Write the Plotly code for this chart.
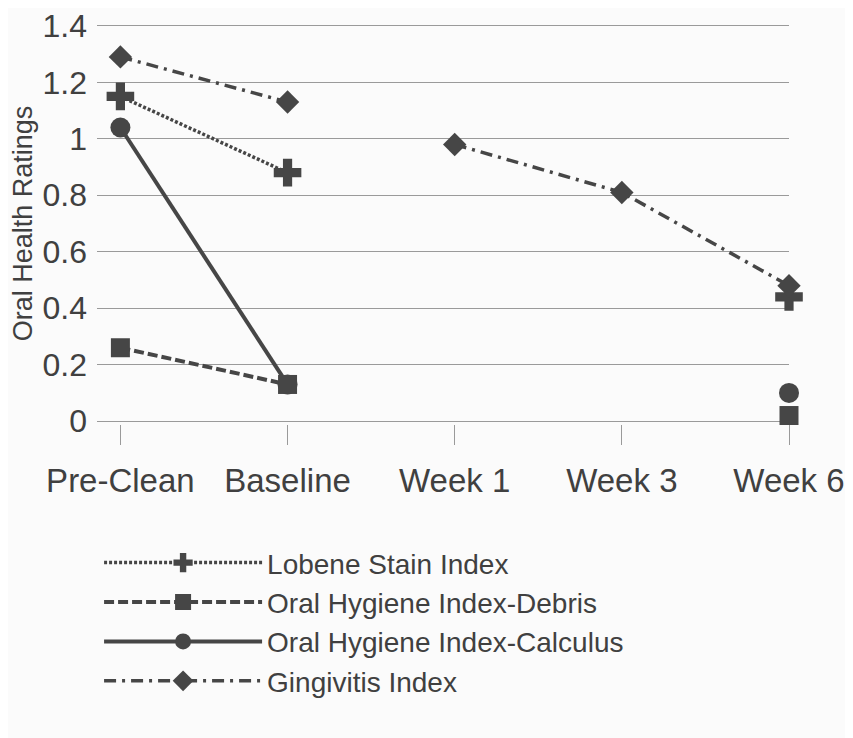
import plotly.graph_objects as go

categories = ["Pre-Clean", "Baseline", "Week 1", "Week 3", "Week 6"]
lobene_stain = [1.15, 0.88, None, None, 0.44]
ohi_debris = [0.26, 0.13, None, None, 0.02]
ohi_calculus = [1.04, 0.13, None, None, 0.10]
gingivitis = [1.29, 1.13, 0.98, 0.81, 0.48]
y_ticks = [0, 0.2, 0.4, 0.6, 0.8, 1, 1.2, 1.4]
y_tick_labels = ["0", "0.2", "0.4", "0.6", "0.8", "1", "1.2", "1.4"]

INK = "#464646"
TXT = "#404040"
FONT = "Liberation Sans, Arial, sans-serif"

fig = go.Figure()

fig.add_trace(go.Scatter(
    x=categories, y=lobene_stain, name="Lobene Stain Index",
    mode="lines+markers", connectgaps=False, cliponaxis=False, legendrank=1,
    line=dict(color=INK, width=3.5, dash="3px,2px"),
    marker=dict(symbol="cross", size=23, color=INK),
))
fig.add_trace(go.Scatter(
    x=categories, y=ohi_calculus, name="Oral Hygiene Index-Calculus",
    mode="lines+markers", connectgaps=False, cliponaxis=False, legendrank=3,
    line=dict(color=INK, width=4),
    marker=dict(symbol="circle", size=20, color=INK),
))
fig.add_trace(go.Scatter(
    x=categories, y=ohi_debris, name="Oral Hygiene Index-Debris",
    mode="lines+markers", connectgaps=False, cliponaxis=False, legendrank=2,
    line=dict(color=INK, width=4, dash="10px,4px"),
    marker=dict(symbol="square", size=19, color=INK),
))
fig.add_trace(go.Scatter(
    x=categories[:2], y=gingivitis[:2], name="Gingivitis Index",
    legendgroup="ging", mode="lines+markers", cliponaxis=False, legendrank=4,
    line=dict(color=INK, width=3.5, dash="12px,6px,3px,6px"),
    marker=dict(symbol="diamond", size=18, color=INK),
))
fig.add_trace(go.Scatter(
    x=categories[2:], y=gingivitis[2:], name="Gingivitis Index",
    legendgroup="ging", showlegend=False, mode="lines+markers", cliponaxis=False,
    line=dict(color=INK, width=3.5, dash="12px,6px,3px,6px"),
    marker=dict(symbol="diamond", size=18, color=INK),
))

fig.update_layout(
    width=845, height=730,
    margin=dict(l=89, r=64, t=15, b=314, autoexpand=False),
    paper_bgcolor="#fbfbfb", plot_bgcolor="#fbfbfb",
    font=dict(family=FONT, color=TXT, size=33),
    showlegend=True,
    legend=dict(
        x=0.003, y=-0.284, xanchor="left", yanchor="top",
        font=dict(size=28, family=FONT, color=TXT),
        bgcolor="rgba(0,0,0,0)", itemwidth=158, tracegroupgap=0,
        traceorder="normal",
    ),
    xaxis=dict(
        type="category", categoryorder="array", categoryarray=categories,
        range=[-0.14, 4.0], showgrid=False, zeroline=False, showline=False,
        ticks="outside", ticklen=20, tickcolor="#9a9a9a", tickwidth=1,
        tickfont=dict(size=33, family=FONT, color=TXT),
        ticklabelstandoff=7, automargin=False,
    ),
    yaxis=dict(
        range=[-0.01, 1.41], tickvals=y_ticks, ticktext=y_tick_labels,
        showgrid=True, gridcolor="#9a9a9a", gridwidth=1,
        zeroline=False, showline=False, ticks="",
        tickfont=dict(size=32, family=FONT, color=TXT),
        ticklabelstandoff=9, automargin=False,
        title=dict(text="Oral Health Ratings", font=dict(size=27, family=FONT, color=TXT), standoff=4),
    ),
)

fig.write_html("out.html")
